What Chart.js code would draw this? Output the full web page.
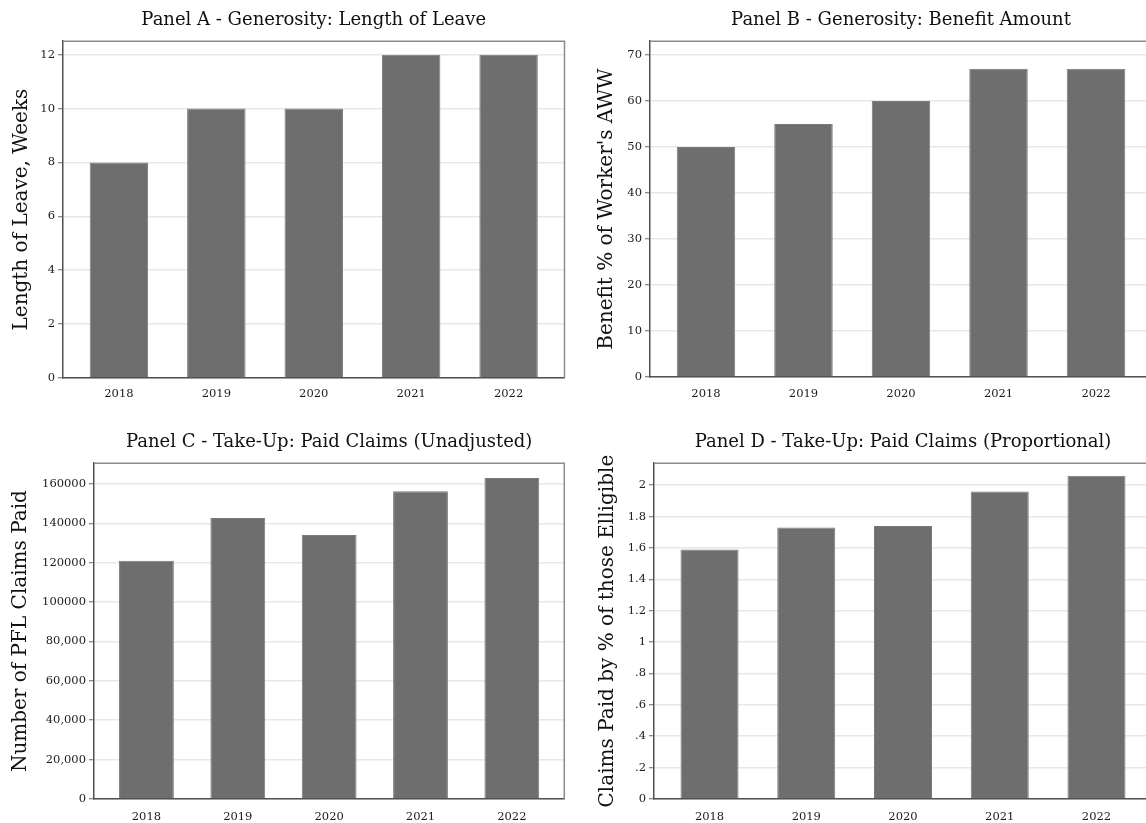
<!DOCTYPE html>
<html>
<head>
<meta charset="utf-8">
<script src="https://cdn.jsdelivr.net/npm/chart.js@4.4.1/dist/chart.umd.min.js"></script>
<style>
  html, body { margin: 0; padding: 0; background: #ffffff; overflow: hidden; width: 1146px; height: 823px; }
  .panel { position: absolute; }
  canvas { display: block; }
</style>
</head>
<body>
<div class="panel" style="left:0px;top:0px"><canvas id="panelA" width="570" height="412"></canvas></div>
<div class="panel" style="left:580px;top:0px"><canvas id="panelB" width="578" height="412"></canvas></div>
<div class="panel" style="left:0px;top:420px"><canvas id="panelC" width="570" height="412"></canvas></div>
<div class="panel" style="left:580px;top:420px"><canvas id="panelD" width="578" height="412"></canvas></div>
<script>
// Program years shared by every panel
const years = ['2018', '2019', '2020', '2021', '2022'];

// Panel A: weeks of paid leave
const leaveWeeks = [8, 10, 10, 12, 12];
const ticksA = [0, 2, 4, 6, 8, 10, 12];
const labelsA = ['0', '2', '4', '6', '8', '10', '12'];

// Panel B: benefit as a percent of the worker's average weekly wage
const benefitPct = [50, 55, 60, 67, 67];
const ticksB = [0, 10, 20, 30, 40, 50, 60, 70];
const labelsB = ['0', '10', '20', '30', '40', '50', '60', '70'];

// Panel C: number of PFL claims paid
const claimsPaid = [121000, 142700, 134000, 156300, 163000];
const ticksC = [0, 20000, 40000, 60000, 80000, 100000, 120000, 140000, 160000];
const labelsC = ['0', '20,000', '40,000', '60,000', '80,000', '100000', '120000', '140000', '160000'];

// Panel D: claims paid as a percent of eligible workers
const claimsShare = [1.59, 1.73, 1.74, 1.96, 2.06];
const ticksD = [0, 0.2, 0.4, 0.6, 0.8, 1, 1.2, 1.4, 1.6, 1.8, 2];
const labelsD = ['0', '.2', '.4', '.6', '.8', '1', '1.2', '1.4', '1.6', '1.8', '2'];

const SERIF = '"DejaVu Serif", "Liberation Serif", serif';

// Light top/right edges that close the plot frame
const frameEdges = {
  id: 'frameEdges',
  afterDraw(chart) {
    const { ctx, chartArea: { left, top, right, bottom } } = chart;
    ctx.save();
    ctx.strokeStyle = '#8c8c8c';
    ctx.lineWidth = 1.5;
    ctx.beginPath();
    ctx.moveTo(left, top);
    ctx.lineTo(right, top);
    ctx.lineTo(right, bottom);
    ctx.stroke();
    ctx.restore();
  }
};

function barPanel(id, cfg) {
  return new Chart(document.getElementById(id), {
    type: 'bar',
    data: {
      datasets: [{
        data: cfg.values.map((v, i) => ({ x: i, y: v })),
        backgroundColor: '#6e6e6e',
        borderColor: '#7a7a7a',
        borderWidth: 1,
        categoryPercentage: 1,
        barPercentage: 0.6
      }]
    },
    options: {
      responsive: false,
      animation: false,
      events: [],
      layout: { padding: { left: 0, right: cfg.padRight, top: 0, bottom: 0 } },
      plugins: {
        legend: { display: false },
        tooltip: { enabled: false },
        title: {
          display: true,
          text: cfg.title,
          fullSize: false,
          color: '#111111',
          font: { family: SERIF, size: 18, weight: 'normal', lineHeight: 1.2 },
          padding: { top: cfg.titleTop, bottom: cfg.titleBottom }
        }
      },
      scales: {
        x: {
          type: 'linear',
          offset: false,
          min: -0.574,
          max: 4.574,
          z: 1,
          grid: { display: false, offset: false },
          border: { display: true, color: '#505050', width: 1.5 },
          afterBuildTicks: (axis) => { axis.ticks = years.map((_, i) => ({ value: i })); },
          afterFit: (axis) => { axis.height = cfg.xHeight; },
          ticks: {
            callback: (value, index) => years[index],
            color: '#1a1a1a',
            font: { family: SERIF, size: 11.5 },
            padding: cfg.xPad,
            maxRotation: 0,
            autoSkip: false
          }
        },
        y: {
          min: 0,
          max: cfg.yMax,
          afterBuildTicks: (axis) => { axis.ticks = cfg.yTicks.map(v => ({ value: v })); },
          afterFit: (axis) => { axis.width = cfg.yWidth; },
          grid: { color: '#e8e8e8', lineWidth: 1.5, tickColor: '#666666', tickLength: 5, tickWidth: 1 },
          border: { display: true, color: '#505050', width: 1.5 },
          ticks: {
            callback: (value, index) => cfg.yLabels[index],
            color: '#1a1a1a',
            font: { family: SERIF, size: 11.5 },
            padding: 3,
            autoSkip: false
          },
          title: {
            display: true,
            text: cfg.yTitle,
            color: '#111111',
            font: { family: SERIF, size: 20, weight: 'normal', lineHeight: 1.2 },
            padding: { top: cfg.yTitlePad, bottom: 0 }
          }
        }
      }
    },
    plugins: [frameEdges]
  });
}

barPanel('panelA', {
  title: 'Panel A - Generosity: Length of Leave',
  yTitle: 'Length of Leave, Weeks',
  values: leaveWeeks, yTicks: ticksA, yLabels: labelsA, yMax: 12.5,
  yWidth: 63, padRight: 5.5, xHeight: 34, xPad: 1,
  titleTop: 10, titleBottom: 9.6, yTitlePad: 10
});

barPanel('panelB', {
  title: 'Panel B - Generosity: Benefit Amount',
  yTitle: "Benefit % of Worker's AWW",
  values: benefitPct, yTicks: ticksB, yLabels: labelsB, yMax: 73,
  yWidth: 70, padRight: 6, xHeight: 35, xPad: 2,
  titleTop: 10, titleBottom: 9.6, yTitlePad: 15
});

barPanel('panelC', {
  title: 'Panel C - Take-Up: Paid Claims (Unadjusted)',
  yTitle: 'Number of PFL Claims Paid',
  values: claimsPaid, yTicks: ticksC, yLabels: labelsC, yMax: 170500,
  yWidth: 94, padRight: 5.7, xHeight: 33, xPad: 3,
  titleTop: 12, titleBottom: 9.6, yTitlePad: 9
});

barPanel('panelD', {
  title: 'Panel D - Take-Up: Paid Claims (Proportional)',
  yTitle: 'Claims Paid by % of those Elligible',
  values: claimsShare, yTicks: ticksD, yLabels: labelsD, yMax: 2.14,
  yWidth: 74, padRight: 6, xHeight: 33, xPad: 3,
  titleTop: 12, titleBottom: 9.6, yTitlePad: 16
});
</script>
</body>
</html>
